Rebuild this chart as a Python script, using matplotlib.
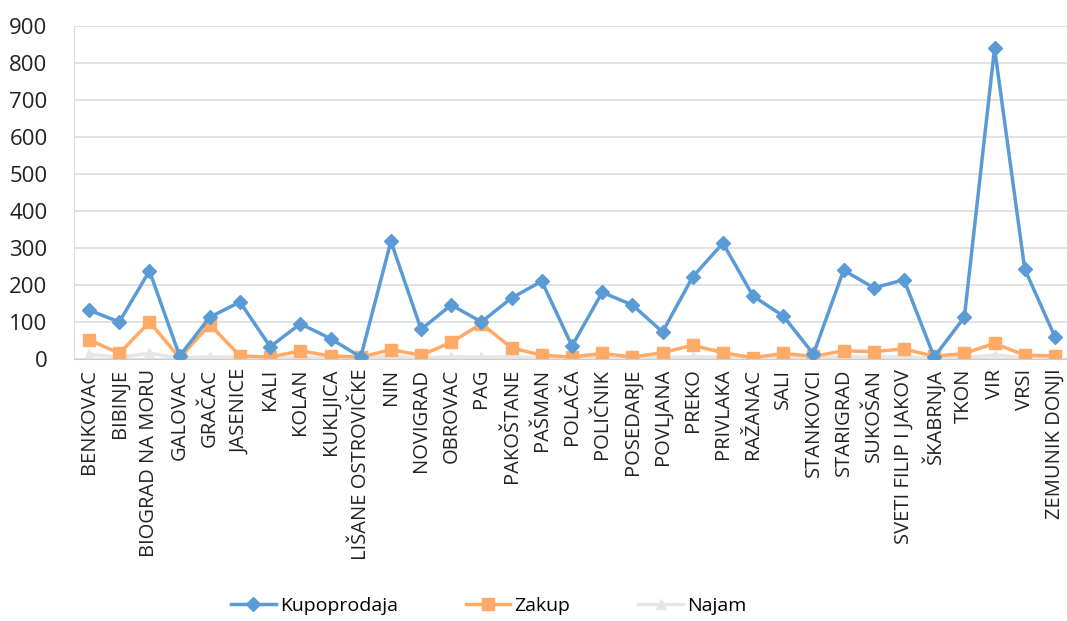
import matplotlib
matplotlib.use("Agg")
from matplotlib import pyplot as plt

municipalities = [
    "BENKOVAC", "BIBINJE", "BIOGRAD NA MORU", "GALOVAC", "GRAČAC", "JASENICE",
    "KALI", "KOLAN", "KUKLJICA", "LIŠANE OSTROVIČKE", "NIN", "NOVIGRAD",
    "OBROVAC", "PAG", "PAKOŠTANE", "PAŠMAN", "POLAČA", "POLIČNIK",
    "POSEDARJE", "POVLJANA", "PREKO", "PRIVLAKA", "RAŽANAC", "SALI",
    "STANKOVCI", "STARIGRAD", "SUKOŠAN", "SVETI FILIP I JAKOV", "ŠKABRNJA",
    "TKON", "VIR", "VRSI", "ZEMUNIK DONJI",
]
kupoprodaja = [132, 100, 238, 8, 113, 154, 33, 95, 55, 5, 318, 80, 146, 100,
               165, 210, 35, 180, 146, 73, 222, 313, 170, 116, 13, 240, 192,
               214, 5, 113, 840, 243, 60]
zakup = [52, 15, 100, 3, 93, 8, 5, 22, 8, 5, 25, 10, 45, 95, 30, 10, 5, 15,
         5, 17, 37, 17, 3, 15, 7, 22, 20, 27, 7, 15, 42, 10, 8]
najam = [12, 5, 15, 3, 6, 4, 3, 5, 4, 2, 8, 3, 6, 5, 6, 4, 2, 5, 3, 4, 6,
         5, 2, 4, 2, 6, 5, 6, 2, 4, 10, 4, 3]

plt.rcParams["font.family"] = ["Open Sans", "DejaVu Sans"]

fig = plt.figure(figsize=(10.67, 6.21), dpi=100)
ax = fig.add_axes([74 / 1067, 0.422, 996 / 1067, 0.536])

x = range(len(municipalities))
ax.plot(x, kupoprodaja, color="#5B9BD5", lw=2.5, marker="D", ms=7.5, label="Kupoprodaja", zorder=3)
ax.plot(x, zakup, color="#FFAA66", lw=2.5, marker="s", ms=8, label="Zakup", zorder=2)
ax.plot(x, najam, color="#E6E6E6", lw=2.5, marker="^", ms=7, label="Najam", zorder=1)

ax.set_xlim(-0.5, len(municipalities) - 0.5)
ax.set_ylim(0, 900)
ax.set_yticks(range(0, 901, 100))
ax.set_xticks(list(x))
ax.set_xticklabels(municipalities, rotation=90, fontsize=14.5, color="#222222")
ax.tick_params(axis="y", labelsize=16, colors="#222222", length=0, pad=19)
ax.tick_params(axis="x", length=0, pad=7)
ax.grid(axis="y", color="#DDDDDD", lw=1.2)
ax.set_axisbelow(True)
for s in ["top", "right"]:
    ax.spines[s].set_visible(False)
ax.spines["bottom"].set_color("#CCCCCC")
ax.spines["left"].set_color("#DDDDDD")

fig.legend(loc="center", bbox_to_anchor=(0.458, 0.024), ncol=3, frameon=False,
           fontsize=14, handlelength=2.3, handletextpad=0.2, columnspacing=3.5)
fig.savefig("out.png", dpi=100)
